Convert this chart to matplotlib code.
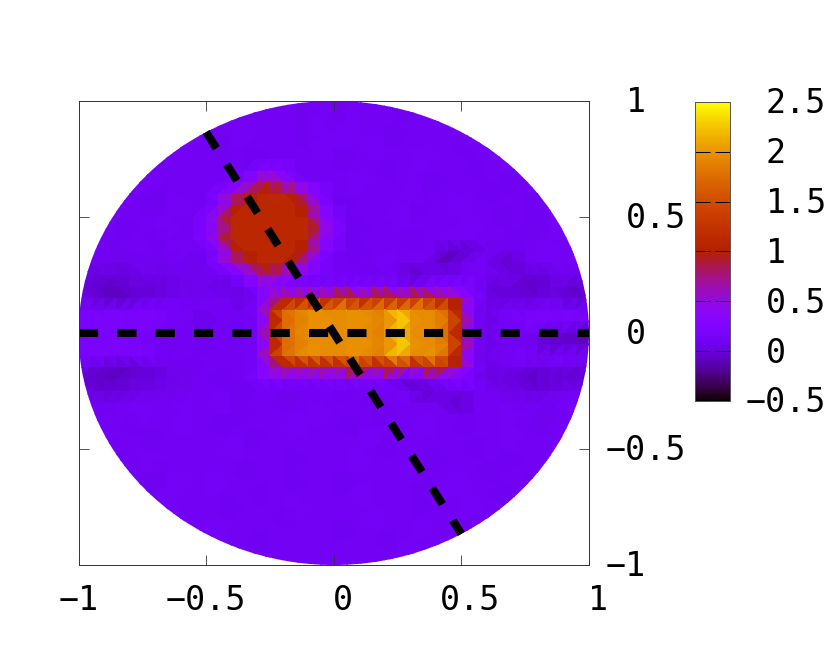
import matplotlib
matplotlib.use('Agg')
import matplotlib.pyplot as plt
from matplotlib.patches import Ellipse
from matplotlib.tri import Triangulation
import numpy as np

# field, node grid from x=-1..1 and y=1..-1 in 0.05 steps
LEVELS = {'-': -0.08, ';': 0.0, ',': 0.07, '.': 0.11, ':': 0.16, '*': 0.21, '+': 0.26, 'p': 0.55,
          'm': 0.85, 'c': 1.1, 'd': 1.15, 'r': 1.4, 'o': 1.7, 'n': 1.85, 'g': 1.95, 'h': 2.03, 'y': 2.35}
field_rows = [
    ".......... .........: ,......... .......... .",
    "........,. ........,: ,.....,... .......... .",
    ",...:..... ........,: ,:........ ...,...... .",
    "..,....... ...:....,: .:...,.... .:........ .",
    "....,...:. .,.......: ...:...... ,.....,... .",
    ".:....,... ....,..... .,.....:.. ....:..... ,",
    "...,...... ....+++... ....,..... .,......:. .",
    ",.....:... ...+pmp+.. ..:.....,. ....,..... .",
    "..:...,... .+pmcccmp+ ......:... ..,....:.. .",
    "......,.:. .+mcccccm+ .,.....,.. :.....,... .",
    ".,:....... +pcccccccp +....:.... ...,...... ,",
    "....,..:.. +pcdcccdcp +.,....... .:....,.:. .",
    ":.....,... +pcccccccp +.....,..: ....,..... .",
    "...,....:. .+mcccccm+ ..,......- --.,...:.. .",
    ",,.,,.,,., .+pmcccmp+ ....:...-- .:.--..... .",
    ",;;;;,,,., ...+pmp+.. ...,.,--.. ...,.;;;., ,",
    ";;--;;;;,, ,;,,****** ********** **;;;--;;- ;",
    ",;---;;,., ...;:pmmmm mrmmrmmrmm p:,;;;;,;- ;",
    ":::::*:::. ...,:mongg ggggnygggo m:,.:.:::. :",
    "**:*:*::.. ;...:mongh gghgnyhggo m:;.::*::* :",
    ":*:::::... ..,.:mongg ggggnygggo m:,..:,;;- -",
    ":::*::.,.. ,...:mongg gghgnyhggo m:;.,,;--- -",
    "**:*:*:... ....:monhg ggggnyggho m:,.:*::*: :",
    ",;;--;;,., ....:pmmmm mmrmmrmmrm p:;.,,;,,; ,",
    ";---;;;,,. .,..****** *****--*** **;;;---;- ;",
    ",;;;;,,.,. ...,...,.. .,....:--, ....,,;,,. ,",
    "..,.....:. .:....,... ...,.....- -...,...:. .",
    ".,...:.... ...,.....: ....,..... ....:..,.. .",
    "....,...:. .,.....:.. .,.....:.. ,.....,... .",
    ".:....,... ....,..... ...:...... ....:..... ,",
    "...,...... ..:....... ....,..... .,......:. .",
    ",.....:... .......,.. ..:.....,. ....,..... .",
    "..:...,... ...,...... ......:... ..,....:.. .",
    "......,.:. .:.....,.. .,.....,.. :.....,... .",
    ".,:....... ....,..... ..:.....:. ...,...... ,",
    "....,..:.. ..,....:.. .......,.. .:....,.:. .",
    ":.....,... ......,... ...:...... ....,..... .",
    "...,....:. .:........ .,.....:.. .,.....:.. .",
    ",.....,... ....,..... ....,..... ....:..... .",
    "..:....... ..,....... ......:... ..,....... .",
    ".......... .......... .......... .......... .",
]

x_ticks = [-1, -0.5, 0, 0.5, 1]
y_ticks = [-1, -0.5, 0, 0.5, 1]
cb_ticks = [-0.5, 0, 0.5, 1, 1.5, 2, 2.5]
x_labels = ['\u22121', '\u22120.5', '0', '0.5', '1']
y_labels = ['\u22121', '\u22120.5', '0', '0.5', '1']
cb_labels = ['\u22120.5', '0', '0.5', '1', '1.5', '2', '2.5']
h_line_x = [-1, 1]
h_line_y = [0, 0]
diag_line_x = [-0.5, 0.5]
diag_line_y = [0.866, -0.866]

W, H = 830, 664
FONT = 'DejaVu Sans Mono'
FONT_SIZE = 24
plt.rcParams['lines.scale_dashes'] = False


def px_rect(left, top, right, bottom):
    return [left / W, 1 - bottom / H, (right - left) / W, (bottom - top) / H]


def build_mesh():
    rows = [r.replace(' ', '') for r in field_rows]
    values = np.array([[LEVELS[c] for c in r] for r in rows])
    n_rows, n_cols = values.shape
    xs, ys = np.meshgrid(np.linspace(-1, 1, n_cols), np.linspace(1, -1, n_rows))
    triangles = []
    for j in range(n_rows - 1):
        for i in range(n_cols - 1):
            a = j * n_cols + i
            b, c, d = a + 1, a + n_cols, a + n_cols + 1
            if j % 2 == 0:
                triangles += [[a, b, d], [a, d, c]]
            else:
                triangles += [[a, b, c], [b, d, c]]
    return Triangulation(xs.ravel(), ys.ravel(), triangles), values.ravel()


fig = plt.figure(figsize=(W / 100, H / 100), dpi=100)
ax = fig.add_axes(px_rect(78.5, 101, 589, 565))

tri, z = build_mesh()
mesh = ax.tripcolor(tri, z, cmap='gnuplot', vmin=-0.5, vmax=2.5, shading='flat',
                    edgecolors='none', antialiased=False)
mesh.set_clip_path(Ellipse((0, 0), 2, 2, transform=ax.transData))

ax.plot(h_line_x, h_line_y, color='black', lw=5.8, linestyle=(0, (13.8, 13.8)), dash_capstyle='butt')
ax.plot(diag_line_x, diag_line_y, color='black', lw=5.8, linestyle=(0, (13.8, 13.8)), dash_capstyle='butt')

ax.set_xlim(-1, 1)
ax.set_ylim(-1, 1)
ax.set_xticks(x_ticks)
ax.set_yticks(y_ticks)
ax.set_xticklabels([])
ax.set_yticklabels([])
ax.tick_params(direction='in', length=7.5, width=0.6, top=True, right=True, color='#333333')
for spine in ax.spines.values():
    spine.set_linewidth(0.7)
    spine.set_color('#333333')

# labels are not centred on the ticks in the original, so place them one by one
for val, label in zip(x_ticks, x_labels):
    shift = 0 if val < 0 else 9
    ax.annotate(label, xy=(val, 0), xycoords=('data', 'axes fraction'), xytext=(shift, -36),
                textcoords='offset pixels', ha='center', va='center', family=FONT, fontsize=FONT_SIZE)
for val, label in zip(y_ticks, y_labels):
    shift = 17 if val < 0 else 37
    ax.annotate(label, xy=(1, val), xycoords=('axes fraction', 'data'), xytext=(shift, -2),
                textcoords='offset pixels', ha='left', va='center', family=FONT, fontsize=FONT_SIZE)

cax = fig.add_axes(px_rect(695, 102, 730, 401))
cb = fig.colorbar(mesh, cax=cax, ticks=cb_ticks)
cb.ax.set_yticklabels([])
cb.ax.tick_params(direction='in', length=10.8, width=0.7, left=True, right=True, color='black')
cb.outline.set_linewidth(0.7)
cb.outline.set_edgecolor('#555555')
for val, label in zip(cb_ticks, cb_labels):
    shift = 16 if val < 0 else 36
    cax.annotate(label, xy=(1, val), xycoords=('axes fraction', 'data'), xytext=(shift, -2),
                 textcoords='offset pixels', ha='left', va='center', family=FONT, fontsize=FONT_SIZE)

fig.savefig('out.png', dpi=100)
